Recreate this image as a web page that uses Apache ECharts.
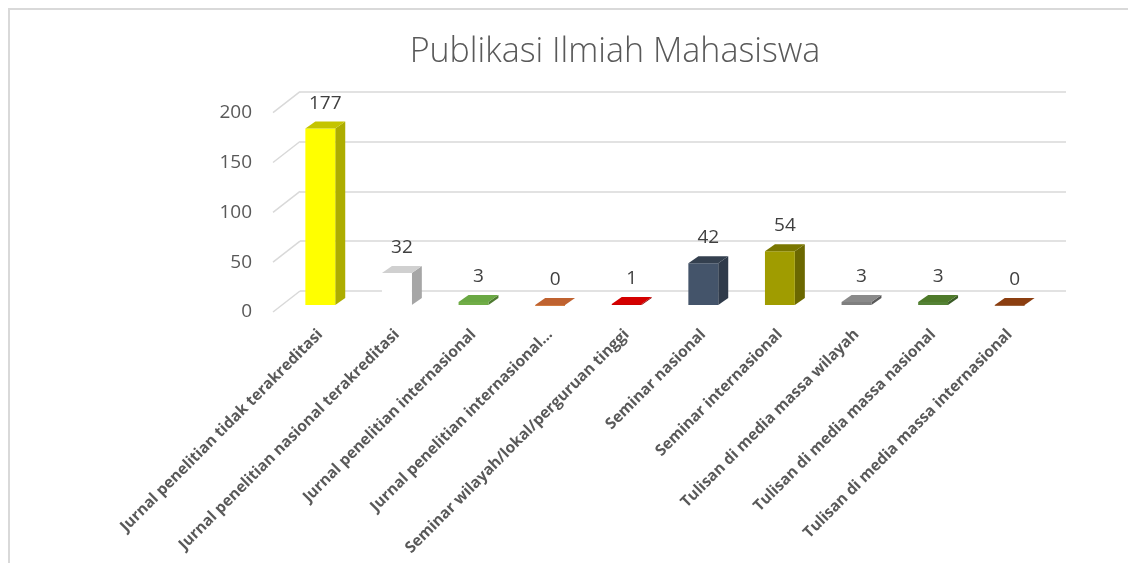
<!DOCTYPE html>
<html>
<head>
<meta charset="utf-8">
<script src="https://cdn.jsdelivr.net/npm/echarts@6/dist/echarts.min.js"></script>
<style>
  html, body { margin: 0; padding: 0; background: #fff; }
  #chart { width: 1128px; height: 563px; }
</style>
</head>
<body>
<div id="chart"></div>
<script>
// Publication counts per category
const categories = [
  'Jurnal penelitian tidak terakreditasi',
  'Jurnal penelitian nasional terakreditasi',
  'Jurnal penelitian internasional',
  'Jurnal penelitian internasional...',
  'Seminar wilayah/lokal/perguruan tinggi',
  'Seminar nasional',
  'Seminar internasional',
  'Tulisan di media massa wilayah',
  'Tulisan di media massa nasional',
  'Tulisan di media massa internasional'
];
const values = [177, 32, 3, 0, 1, 42, 54, 3, 3, 0];
const yTicks = [0, 50, 100, 150, 200];

// Face colours for each column: front, side, top
const frontColors = ['#FFFF00', '#FFFFFF', '#70AD47', '#C55A11', '#CC0000', '#44546A', '#A09C00', '#7F7F7F', '#548235', '#843C0C'];
const sideColors  = ['#ADAD00', '#A6A6A6', '#4E7A30', '#8A3F0C', '#8E0000', '#2F3A4A', '#6B6800', '#595959', '#3A5B25', '#5C2A08'];
const topColors   = ['#C4C400', '#D0D0D0', '#6AA843', '#BF6230', '#D40000', '#34404F', '#7A7700', '#8A8A8A', '#4E7A2A', '#8B3E10'];

const FONT = '"Open Sans", "Noto Sans", sans-serif';
const DEPTH_X = 27, DEPTH_Y = -21;   // full floor depth (front -> back wall)
const BAR_DX = 10, BAR_DY = -7;      // column depth

const chart = echarts.init(document.getElementById('chart'), null, { renderer: 'canvas' });

const option = {
  backgroundColor: '#ffffff',
  animation: false,
  title: {
    text: 'Publikasi Ilmiah Mahasiswa',
    left: 610,
    top: 30,
    textAlign: 'center',
    textStyle: { fontFamily: FONT, fontWeight: 300, fontSize: 34, color: '#595959' }
  },
  graphic: [{
    type: 'rect',
    shape: { x: 9, y: 9, width: 1200, height: 600 },
    style: { fill: 'none', stroke: '#D9D9D9', lineWidth: 2 },
    silent: true
  }],
  grid: [
    // back wall
    { left: 300, right: 62, top: 91.7, bottom: 272 },
    // column front plane
    { left: 282, right: 80, top: 105.7, bottom: 258 },
    // front edge of the floor
    { left: 273, right: 89, top: 113, bottom: 251 }
  ],
  xAxis: [
    { gridIndex: 0, type: 'value', min: 0, max: 10, show: false },
    {
      gridIndex: 1, type: 'category', data: categories,
      axisLine: { show: false }, axisTick: { show: false },
      axisLabel: {
        interval: 0, rotate: 45, margin: 27,
        fontFamily: FONT, fontSize: 15.5, fontWeight: 'bold', color: '#595959'
      }
    },
    { gridIndex: 2, type: 'value', min: 0, max: 10, show: false }
  ],
  yAxis: [
    {
      gridIndex: 0, type: 'value', min: 0, max: 200, interval: 50,
      axisLine: { show: false }, axisTick: { show: false }, axisLabel: { show: false },
      splitLine: { show: true, lineStyle: { color: '#D9D9D9', width: 1.5 } }
    },
    { gridIndex: 1, type: 'value', min: 0, max: 200, interval: 50, show: false },
    {
      gridIndex: 2, type: 'value', min: 0, max: 200, interval: 50,
      axisLine: { show: false }, axisTick: { show: false }, splitLine: { show: false },
      axisLabel: { margin: 21, fontFamily: FONT, fontSize: 19, color: '#595959' }
    }
  ],
  series: [
    {
      // side-wall lines linking each gridline to the floor front
      type: 'custom',
      xAxisIndex: 0, yAxisIndex: 0,
      silent: true,
      data: yTicks.map(v => [0, v]),
      renderItem(params, api) {
        const p = api.coord([api.value(0), api.value(1)]);
        return {
          type: 'line',
          shape: { x1: p[0], y1: p[1], x2: p[0] - DEPTH_X, y2: p[1] - DEPTH_Y },
          style: { stroke: '#D9D9D9', lineWidth: 1.5 }
        };
      }
    },
    {
      // 3D-style columns with value labels
      type: 'custom',
      xAxisIndex: 1, yAxisIndex: 1,
      data: values.map((v, i) => [i, v]),
      renderItem(params, api) {
        const i = api.value(0), v = api.value(1);
        const top = api.coord([i, v]);
        const base = api.coord([i, 0]);
        const band = api.size([1, 0])[0];
        const w = band * 0.39;
        const x0 = top[0] - w / 2, x1 = top[0] + w / 2;
        const yt = top[1], yb = base[1];
        return {
          type: 'group',
          children: [
            {
              type: 'polygon',
              shape: { points: [[x1, yt], [x1 + BAR_DX, yt + BAR_DY], [x1 + BAR_DX, yb + BAR_DY], [x1, yb]] },
              style: { fill: sideColors[i] }
            },
            {
              type: 'rect',
              shape: { x: x0, y: yt, width: w, height: Math.max(yb - yt, 0.8) },
              style: { fill: frontColors[i] }
            },
            {
              type: 'polygon',
              shape: { points: [[x0, yt], [x1, yt], [x1 + BAR_DX, yt + BAR_DY], [x0 + BAR_DX, yt + BAR_DY]] },
              style: { fill: topColors[i] }
            },
            {
              type: 'text',
              style: {
                text: String(v),
                x: top[0] + BAR_DX / 2,
                y: yt + BAR_DY - 9,
                align: 'center',
                verticalAlign: 'bottom',
                fontFamily: FONT,
                fontSize: 19,
                fill: '#404040'
              }
            }
          ]
        };
      }
    }
  ]
};

chart.setOption(option);
</script>
</body>
</html>
